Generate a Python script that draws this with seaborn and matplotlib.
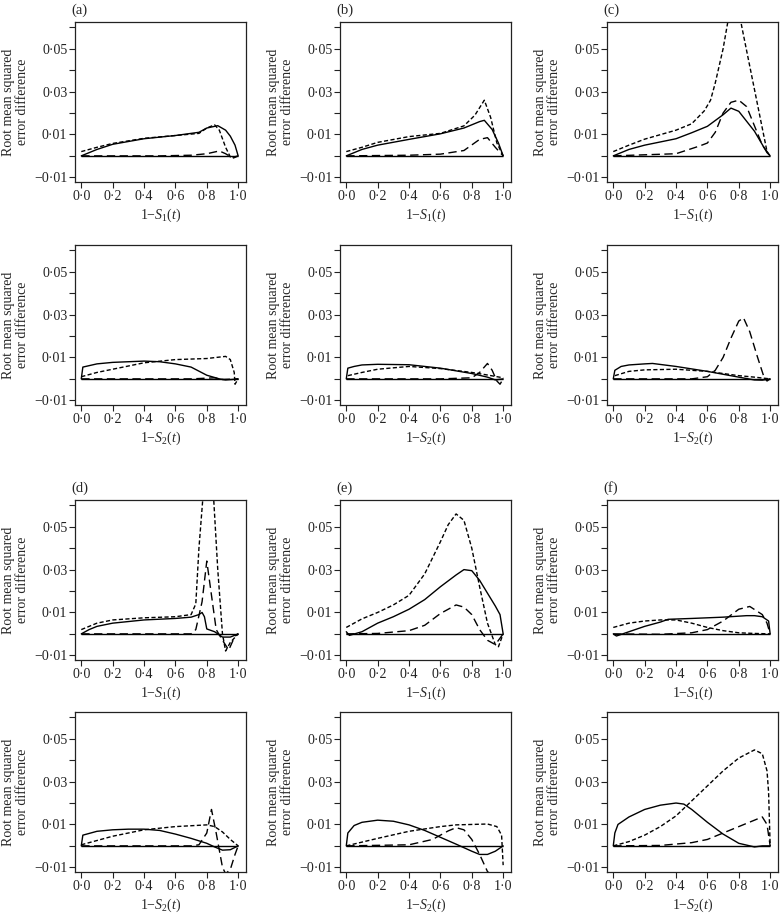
import matplotlib
matplotlib.use('Agg')
import matplotlib.pyplot as plt
import numpy as np
import pandas as pd
import seaborn as sns

# curves: (x, y) points, x = 1 - S(t)
# row 1: panels a, b, c vs 1-S1(t)
a1_solid = [(0, 0), (0.1, 0.003), (0.2, 0.0054), (0.4, 0.008), (0.6, 0.0095), (0.75, 0.011), (0.8, 0.013),
            (0.87, 0.0141), (0.92, 0.012), (0.95, 0.0092), (0.98, 0.005), (1.0, 0)]
a1_short = [(0, 0.002), (0.1, 0.004), (0.2, 0.0058), (0.4, 0.0082), (0.6, 0.0095), (0.75, 0.0105), (0.8, 0.013),
            (0.85, 0.0145), (0.88, 0.012), (0.92, 0.004), (0.95, -0.0005), (0.97, -0.001), (1.0, 0)]
a1_long = [(0, 0), (0.5, 0), (0.7, 0.0003), (0.8, 0.001), (0.88, 0.0023), (0.92, 0.001), (0.96, -0.0008), (1.0, 0)]

b1_solid = [(0, 0), (0.1, 0.003), (0.2, 0.005), (0.4, 0.0077), (0.6, 0.0103), (0.75, 0.013), (0.85, 0.016),
            (0.88, 0.0166), (0.93, 0.0123), (0.97, 0.006), (1.0, 0)]
b1_short = [(0, 0.002), (0.1, 0.004), (0.2, 0.0063), (0.4, 0.009), (0.6, 0.0105), (0.75, 0.014), (0.82, 0.019),
            (0.88, 0.026), (0.92, 0.018), (0.96, 0.006), (1.0, 0)]
b1_long = [(0, 0), (0.4, 0.0003), (0.6, 0.0008), (0.75, 0.0025), (0.85, 0.0077), (0.9, 0.0085), (0.95, 0.004),
           (1.0, 0)]

c1_solid = [(0, 0), (0.1, 0.003), (0.2, 0.005), (0.4, 0.008), (0.5, 0.0108), (0.6, 0.0138), (0.7, 0.0192),
            (0.75, 0.0223), (0.8, 0.0208), (0.9, 0.0115), (0.98, 0.0015), (1.0, 0)]
c1_short = [(0, 0.002), (0.1, 0.005), (0.2, 0.0078), (0.4, 0.012), (0.5, 0.015), (0.58, 0.021), (0.62, 0.026),
            (0.65, 0.034), (0.7, 0.05), (0.76, 0.075), (0.8, 0.068), (0.82, 0.06), (0.9, 0.031), (0.98, 0.002),
            (1.0, 0)]
c1_long = [(0, 0), (0.4, 0.001), (0.55, 0.0046), (0.6, 0.006), (0.65, 0.011), (0.7, 0.02), (0.75, 0.025),
           (0.8, 0.026), (0.85, 0.023), (0.9, 0.014), (0.95, 0.005), (1.0, 0)]

# row 2: panels a, b, c vs 1-S2(t)
a2_solid = [(0, 0), (0.01, 0.0055), (0.1, 0.007), (0.2, 0.0077), (0.3, 0.008), (0.4, 0.0083), (0.5, 0.008),
            (0.6, 0.007), (0.7, 0.0055), (0.8, 0.0017), (0.88, 0), (0.92, -0.0005), (0.96, -0.0003), (1.0, 0)]
a2_short = [(0, 0.001), (0.1, 0.003), (0.2, 0.0045), (0.4, 0.0075), (0.6, 0.009), (0.8, 0.0095), (0.92, 0.0105),
            (0.95, 0.009), (0.975, 0.003), (0.98, -0.0025), (1.0, 0)]
a2_long = [(0, 0), (0.7, 0), (0.85, 0.0005), (0.9, -0.0003), (1.0, 0)]

b2_solid = [(0, 0), (0.01, 0.005), (0.05, 0.0058), (0.1, 0.0065), (0.2, 0.0068), (0.4, 0.0066), (0.6, 0.005),
            (0.8, 0.0025), (0.9, 0.0008), (0.95, -0.0005), (1.0, 0)]
b2_short = [(0.01, 0.0015), (0.1, 0.003), (0.2, 0.0045), (0.4, 0.0058), (0.6, 0.0048), (0.8, 0.003),
            (0.9, 0.0018), (1.0, 0.0005)]
b2_long = [(0, 0), (0.6, 0), (0.8, 0.0005), (0.85, 0.003), (0.9, 0.0072), (0.93, 0.004), (0.96, -0.001),
           (0.98, -0.0025), (1.0, 0)]

c2_solid = [(0, 0), (0.01, 0.004), (0.05, 0.0058), (0.1, 0.0065), (0.2, 0.007), (0.25, 0.0072), (0.4, 0.0058),
            (0.6, 0.0035), (0.8, 0.0008), (0.9, -0.0005), (0.95, -0.0006), (1.0, 0)]
c2_short = [(0.01, 0.0015), (0.1, 0.0035), (0.2, 0.0042), (0.4, 0.0045), (0.6, 0.0035), (0.8, 0.0015),
            (0.9, 0.0008), (1.0, 0)]
c2_long = [(0, 0), (0.5, 0), (0.6, 0.001), (0.65, 0.004), (0.7, 0.01), (0.75, 0.019), (0.8, 0.027),
           (0.83, 0.0285), (0.87, 0.022), (0.92, 0.01), (0.96, 0.001), (0.98, -0.001), (1.0, 0)]

# row 3: panels d, e, f vs 1-S1(t)
d1_solid = [(0, 0), (0.05, 0.002), (0.1, 0.0035), (0.2, 0.005), (0.4, 0.0065), (0.6, 0.0072), (0.7, 0.0078),
            (0.75, 0.009), (0.77, 0.01), (0.785, 0.008), (0.8, 0.0023), (0.85, 0.001), (0.9, -0.0015),
            (0.95, -0.0015), (1.0, 0)]
d1_short = [(0, 0.002), (0.1, 0.005), (0.2, 0.0065), (0.4, 0.0075), (0.6, 0.008), (0.7, 0.009), (0.73, 0.014),
            (0.75, 0.04), (0.78, 0.068), (0.84, 0.068), (0.87, 0.03), (0.9, 0.0), (0.92, -0.008), (0.95, -0.004),
            (1.0, 0)]
d1_long = [(0, 0), (0.7, 0), (0.73, 0.002), (0.77, 0.015), (0.8, 0.034), (0.83, 0.018), (0.86, 0.002),
           (0.9, -0.003), (0.94, -0.0075), (0.98, -0.001), (1.0, 0)]

e1_solid = [(0, 0.001), (0.02, -0.0007), (0.1, 0.001), (0.2, 0.005), (0.3, 0.008), (0.4, 0.0115), (0.5, 0.016),
            (0.6, 0.022), (0.7, 0.0275), (0.75, 0.03), (0.8, 0.0295), (0.85, 0.025), (0.9, 0.019), (0.95, 0.013),
            (0.98, 0.009), (1.0, 0)]
e1_short = [(0, 0.003), (0.1, 0.007), (0.2, 0.01), (0.3, 0.0135), (0.4, 0.018), (0.5, 0.028), (0.6, 0.043),
            (0.65, 0.051), (0.7, 0.056), (0.75, 0.053), (0.8, 0.04), (0.85, 0.022), (0.9, 0.005), (0.95, -0.005),
            (0.97, -0.006), (1.0, 0)]
e1_long = [(0, 0), (0.2, 0.0002), (0.4, 0.0015), (0.5, 0.004), (0.6, 0.0095), (0.7, 0.0135), (0.75, 0.0125),
           (0.8, 0.009), (0.85, 0.002), (0.9, -0.003), (0.95, -0.005), (1.0, 0)]

f1_solid = [(0, 0), (0.02, -0.001), (0.1, 0.001), (0.2, 0.0035), (0.3, 0.0055), (0.35, 0.0068), (0.5, 0.0072),
            (0.7, 0.0078), (0.85, 0.0085), (0.9, 0.0085), (0.95, 0.008), (0.99, 0.006), (1.0, 0)]
f1_short = [(0, 0.003), (0.1, 0.005), (0.2, 0.006), (0.3, 0.0065), (0.4, 0.0065), (0.5, 0.005), (0.6, 0.003),
            (0.7, 0.0015), (0.8, 0.0005), (0.9, 0.0002), (1.0, 0)]
f1_long = [(0, 0), (0.3, -0.0002), (0.5, 0.0005), (0.6, 0.002), (0.7, 0.006), (0.8, 0.0115), (0.87, 0.0128),
           (0.95, 0.009), (0.98, 0.005), (1.0, 0)]

# row 4: panels d, e, f vs 1-S2(t)
d2_solid = [(0, 0), (0.01, 0.005), (0.1, 0.0068), (0.2, 0.0075), (0.3, 0.0078), (0.4, 0.0078), (0.5, 0.0072),
            (0.6, 0.0055), (0.7, 0.0035), (0.8, 0.0012), (0.85, -0.0005), (0.9, -0.002), (0.95, -0.0018), (1.0, 0)]
d2_short = [(0, 0.0005), (0.1, 0.0025), (0.2, 0.0045), (0.4, 0.0075), (0.6, 0.009), (0.8, 0.0098),
            (0.85, 0.009), (0.9, 0.0065), (0.95, 0.003), (1.0, 0)]
d2_long = [(0, 0), (0.7, 0), (0.75, 0.0005), (0.8, 0.006), (0.83, 0.017), (0.86, 0.006), (0.88, -0.002),
           (0.9, -0.01), (0.92, -0.013), (0.95, -0.011), (0.98, -0.004), (1.0, 0)]

e2_solid = [(0, 0), (0.01, 0.006), (0.05, 0.0095), (0.1, 0.011), (0.2, 0.012), (0.3, 0.0115), (0.4, 0.0098),
            (0.5, 0.0072), (0.6, 0.004), (0.7, 0.0008), (0.8, -0.0025), (0.85, -0.004), (0.9, -0.004),
            (0.95, -0.0025), (1.0, 0)]
e2_short = [(0, 0), (0.2, 0.0035), (0.4, 0.0068), (0.6, 0.009), (0.7, 0.0098), (0.8, 0.01), (0.9, 0.0102),
            (0.96, 0.009), (0.99, 0.005), (1.0, -0.009)]
e2_long = [(0, 0), (0.4, 0.0005), (0.55, 0.003), (0.65, 0.007), (0.7, 0.0085), (0.75, 0.0075), (0.8, 0.003),
           (0.85, -0.004), (0.9, -0.012), (0.95, -0.015), (1.0, -0.012)]

f2_solid = [(0, 0), (0.01, 0.006), (0.03, 0.01), (0.1, 0.0135), (0.2, 0.017), (0.3, 0.019), (0.4, 0.02),
            (0.45, 0.0195), (0.5, 0.017), (0.6, 0.011), (0.7, 0.0055), (0.8, 0.0012), (0.9, -0.0005),
            (0.95, 0), (1.0, 0)]
f2_short = [(0, 0), (0.1, 0.002), (0.2, 0.005), (0.3, 0.009), (0.4, 0.014), (0.5, 0.021), (0.6, 0.028),
            (0.7, 0.035), (0.8, 0.041), (0.9, 0.0448), (0.95, 0.043), (0.98, 0.035), (0.99, 0.025), (1.0, 0)]
f2_long = [(0, 0), (0.3, 0.0002), (0.5, 0.0015), (0.6, 0.003), (0.7, 0.006), (0.8, 0.009), (0.9, 0.012),
           (0.95, 0.0135), (0.98, 0.01), (1.0, 0)]

panel_letters = ['(a)', '(b)', '(c)', '(d)', '(e)', '(f)']
x_ticks = [0.0, 0.2, 0.4, 0.6, 0.8, 1.0]
y_ticks = [-0.01, 0.0, 0.01, 0.02, 0.03, 0.04, 0.05, 0.06]
y_labelled = [-0.01, 0.01, 0.03, 0.05]
x_range = [0.0, 1.0]

grid = [
    [(a1_solid, a1_short, a1_long), (b1_solid, b1_short, b1_long), (c1_solid, c1_short, c1_long)],
    [(a2_solid, a2_short, a2_long), (b2_solid, b2_short, b2_long), (c2_solid, c2_short, c2_long)],
    [(d1_solid, d1_short, d1_long), (e1_solid, e1_short, e1_long), (f1_solid, f1_short, f1_long)],
    [(d2_solid, d2_short, d2_long), (e2_solid, e2_short, e2_long), (f2_solid, f2_short, f2_long)],
]
row_xlabels = ['1\u2212$S_1$($t$)', '1\u2212$S_2$($t$)', '1\u2212$S_1$($t$)', '1\u2212$S_2$($t$)']

sns.set_style('ticks')
plt.rcParams['font.family'] = ['Liberation Serif', 'DejaVu Serif']
plt.rcParams['mathtext.fontset'] = 'custom'
plt.rcParams['mathtext.rm'] = 'Liberation Serif'
plt.rcParams['mathtext.it'] = 'Liberation Serif:italic'
plt.rcParams['font.size'] = 10

W, H = 782, 916
fig = plt.figure(figsize=(W / 100, H / 100), dpi=100)
col_left = [75, 340, 607]
row_top = [22, 245, 500, 712]
ax_w, ax_h = 171, 160
styles = ['-', (0, (3, 1.7)), (0, (6, 3.2))]


def fmt(v, nd):
    return f'{v:.{nd}f}'.replace('.', '\u00b7').replace('-', '\u2212')


for r in range(4):
    for c in range(3):
        ax = fig.add_axes([col_left[c] / W, 1 - (row_top[r] + ax_h) / H, ax_w / W, ax_h / H])
        ax.hlines(0, x_range[0], x_range[1], color='black', lw=1.0)
        for pts, ls in zip(grid[r][c], styles):
            df = pd.DataFrame(pts, columns=['x', 'y'])
            sns.lineplot(data=df, x='x', y='y', ax=ax, color='black', lw=1.0, linestyle=ls,
                         estimator=None, sort=False)
        ax.set_xlim(-0.04, 1.05)
        ax.set_ylim(-0.0122, 0.0625)
        ax.set_xticks(x_ticks)
        ax.set_xticklabels([fmt(v, 1) for v in x_ticks])
        ax.set_yticks(y_ticks)
        ax.set_yticklabels([fmt(v, 2) if any(abs(v - l) < 1e-9 for l in y_labelled) else '' for v in y_ticks])
        ax.tick_params(direction='out', length=4, width=0.8, pad=1.5, labelsize=10, colors='#222222')
        for sp in ax.spines.values():
            sp.set_visible(True)
            sp.set_linewidth(0.9)
            sp.set_color('#222222')
        ax.set_xlabel(row_xlabels[r], fontsize=10, labelpad=3)
        ax.set_ylabel('Root mean squared\nerror difference', fontsize=10, linespacing=1.1)
        ax.yaxis.set_label_coords(-0.27, 0.5)
        if r in (0, 2):
            ax.text(-0.02, 1.03, panel_letters[(r // 2) * 3 + c], transform=ax.transAxes,
                    ha='left', va='bottom', fontsize=10.5)

fig.savefig('out.png', dpi=100)
